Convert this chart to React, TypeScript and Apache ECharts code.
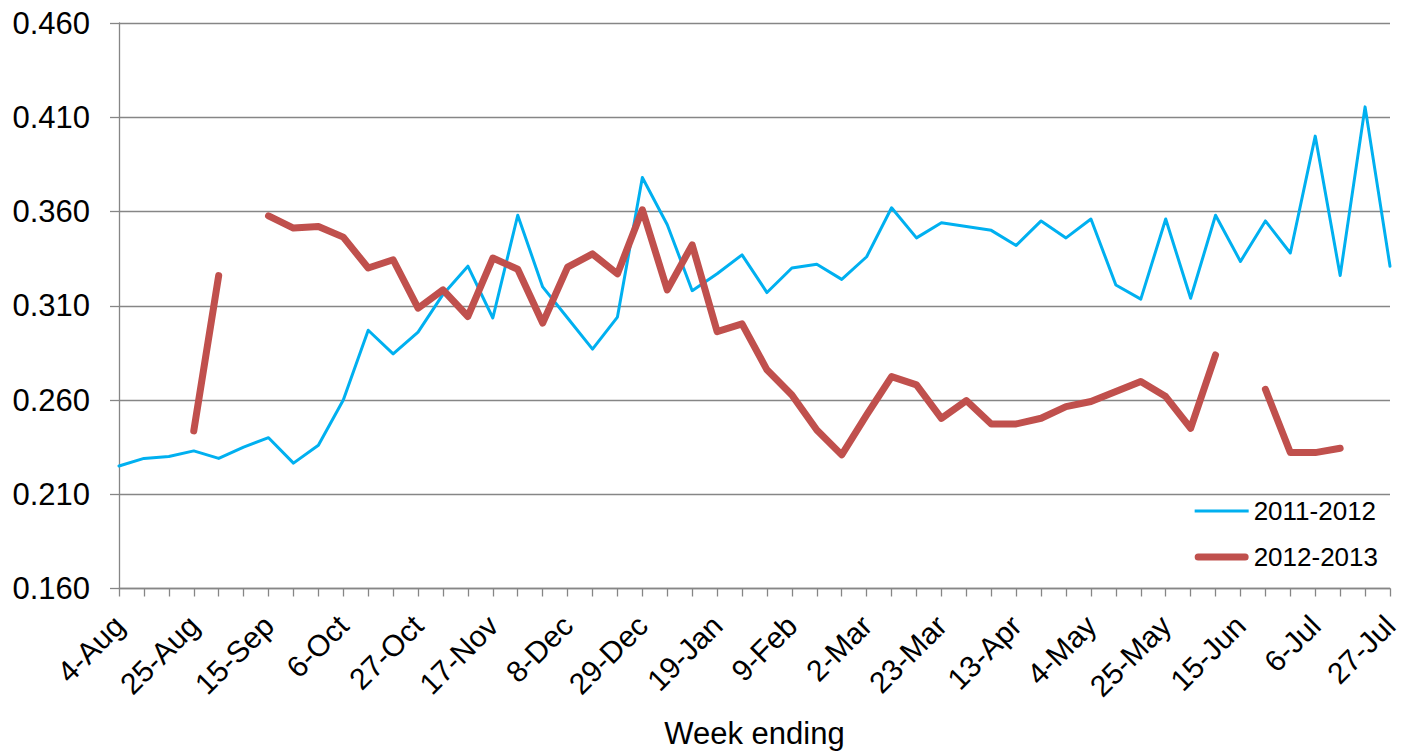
import React, { useEffect, useRef } from "react";
import * as echarts from "echarts";

const weeks = [
  "4-Aug", "11-Aug", "18-Aug", "25-Aug", "1-Sep", "8-Sep", "15-Sep", "22-Sep", "29-Sep",
  "6-Oct", "13-Oct", "20-Oct", "27-Oct", "3-Nov", "10-Nov", "17-Nov", "24-Nov",
  "1-Dec", "8-Dec", "15-Dec", "22-Dec", "29-Dec", "5-Jan", "12-Jan", "19-Jan", "26-Jan",
  "2-Feb", "9-Feb", "16-Feb", "23-Feb", "2-Mar", "9-Mar", "16-Mar", "23-Mar", "30-Mar",
  "6-Apr", "13-Apr", "20-Apr", "27-Apr", "4-May", "11-May", "18-May", "25-May",
  "1-Jun", "8-Jun", "15-Jun", "22-Jun", "29-Jun", "6-Jul", "13-Jul", "20-Jul", "27-Jul",
];

const season2011 = [
  0.225, 0.229, 0.230, 0.233, 0.229, 0.235, 0.240, 0.2265, 0.236,
  0.260, 0.297, 0.2845, 0.296, 0.316, 0.331, 0.3035, 0.358,
  0.320, 0.3035, 0.287, 0.304, 0.378, 0.353, 0.318, 0.327, 0.337,
  0.317, 0.330, 0.332, 0.324, 0.336, 0.362, 0.346, 0.354, 0.352,
  0.350, 0.342, 0.355, 0.346, 0.356, 0.321, 0.3135, 0.356,
  0.314, 0.358, 0.3335, 0.355, 0.338, 0.400, 0.326, 0.4155, 0.331,
];

const season2012 = [
  null, null, null, 0.2436, 0.326, null, 0.3577, 0.3512, 0.352,
  0.3464, 0.330, 0.3344, 0.3087, 0.3184, 0.3043, 0.3353, 0.3294,
  0.3008, 0.3305, 0.3375, 0.3269, 0.3609, 0.3184, 0.3423, 0.2963, 0.3004,
  0.276, 0.2627, 0.2441, 0.2309, 0.2521, 0.2724, 0.268, 0.2503, 0.2597,
  0.2473, 0.2473, 0.2503, 0.2565, 0.2592, 0.2645, 0.2698, 0.2618,
  0.245, 0.2839, null, 0.2657, 0.2321, 0.2321, 0.2344, null, null,
];

const seriesNames = ["2011-2012", "2012-2013"];
const seriesColors = ["#00B0F0", "#C0504D"];

const FONT = "'Liberation Sans', Arial, sans-serif";

const blueIcon =
  "path://M0,0h0.01v0.01h-0.01zM53.99,13.99h0.01v0.01h-0.01zM0,5.5h54v3h-54z";
const redIcon =
  "path://M0,0h0.01v0.01h-0.01zM53.99,13.99h0.01v0.01h-0.01zM3.5,3.5h47a3.5,3.5 0 0 1 0,7h-47a3.5,3.5 0 0 1 0,-7z";

export default function App() {
  const ref = useRef<HTMLDivElement>(null);

  useEffect(() => {
    if (!ref.current) return;
    const chart = echarts.init(ref.current, undefined, { renderer: "svg" });
    const axisColor = "#868686";
    chart.setOption({
      animation: false,
      grid: {
        left: 119,
        right: 12,
        top: 23,
        bottom: 163.5,
        containLabel: false,
        outerBoundsMode: "none",
      },
      legend: {
        orient: "vertical",
        right: 24,
        top: 498,
        padding: 0,
        itemGap: 20,
        itemWidth: 54,
        itemHeight: 14,
        itemStyle: { borderWidth: 0 },
        textStyle: { fontSize: 26, color: "#000", fontFamily: FONT },
        data: [
          { name: seriesNames[0], icon: blueIcon },
          { name: seriesNames[1], icon: redIcon },
        ],
      },
      xAxis: {
        type: "category",
        data: weeks,
        boundaryGap: false,
        name: "Week ending",
        nameLocation: "middle",
        nameGap: 129,
        nameTextStyle: { fontFamily: FONT, fontSize: 31, color: "#000" },
        axisLine: { lineStyle: { color: axisColor, width: 1.3 } },
        axisTick: { show: true, interval: 0, length: 8, lineStyle: { color: axisColor, width: 1.3 } },
        axisLabel: {
          interval: 2,
          rotate: 45,
          margin: 32,
          fontSize: 30,
          color: "#000",
          fontFamily: FONT,
        },
        splitLine: { show: false },
      },
      yAxis: {
        type: "value",
        min: 0.16,
        max: 0.46,
        interval: 0.05,
        axisLine: { show: true, lineStyle: { color: axisColor, width: 1.3 } },
        axisTick: { show: true, length: 9, lineStyle: { color: axisColor, width: 1.3 } },
        axisLabel: {
          formatter: (v: number) => v.toFixed(3),
          margin: 29,
          fontSize: 31,
          color: "#000",
          fontFamily: FONT,
        },
        splitLine: { show: true, lineStyle: { color: axisColor, width: 1.3 } },
      },
      series: [
        {
          name: seriesNames[0],
          type: "line",
          data: season2011,
          symbol: "none",
          color: seriesColors[0],
          lineStyle: { color: seriesColors[0], width: 3, cap: "round", join: "round" },
        },
        {
          name: seriesNames[1],
          type: "line",
          data: season2012,
          symbol: "none",
          connectNulls: false,
          color: seriesColors[1],
          lineStyle: { color: seriesColors[1], width: 7, cap: "round", join: "round" },
        },
      ],
    });
    return () => chart.dispose();
  }, []);

  return (
    <div
      ref={ref}
      style={{ position: "absolute", left: 0, top: 0, width: 1402, height: 752 }}
    />
  );
}
